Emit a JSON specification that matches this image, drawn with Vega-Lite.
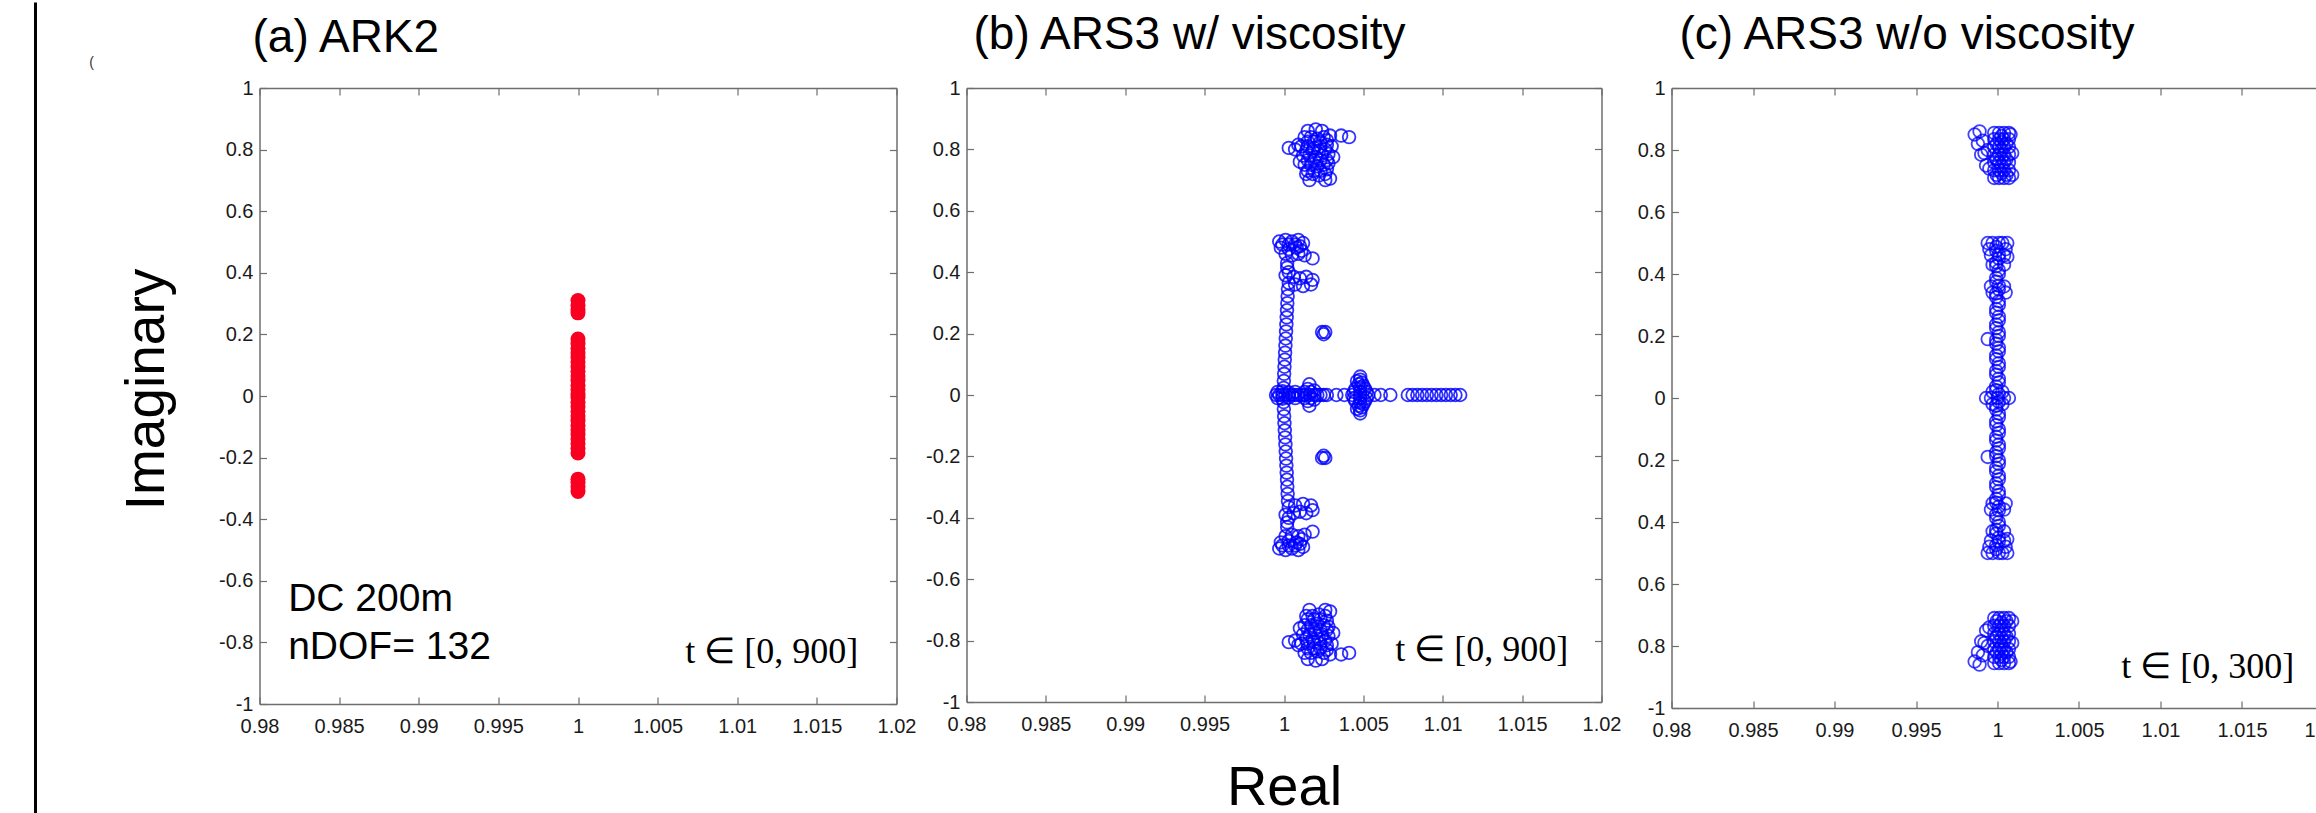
{
  "$schema": "https://vega.github.io/schema/vega-lite/v6.json",
  "padding": {"left": 33.5, "top": 0, "right": 0, "bottom": 0},
  "background": "white",
  "bounds": "flush",
  "spacing": 70,
  "config": {
    "view": {"stroke": null},
    "axis": {
      "grid": false,
      "domainColor": "#6e6e6e",
      "domainWidth": 1.5,
      "tickColor": "#6e6e6e",
      "tickWidth": 1.2,
      "tickSize": -7,
      "labelFont": "Liberation Sans Narrow, Liberation Sans",
      "labelFontSize": 20,
      "labelColor": "#1a1a1a",
      "labelFlush": false,
      "labelOverlap": false,
      "labelBound": false,
      "titleFont": "Liberation Sans",
      "titleFontWeight": "normal",
      "titleColor": "#000000"
    },
    "axisBottom": {"labelPadding": 19.5},
    "axisLeft": {"labelPadding": 13.5},
    "title": {
      "font": "Liberation Sans",
      "fontSize": 46,
      "fontWeight": "normal",
      "anchor": "start",
      "frame": "group",
      "baseline": "alphabetic",
      "color": "#000000"
    }
  },
  "datasets": {
    "ark2": [
      {"re": 1, "im": 0.31}, {"re": 1, "im": 0.295}, {"re": 1, "im": 0.28}, {"re": 1, "im": 0.27},
      {"re": 1, "im": 0.185}, {"re": 1, "im": 0.17}, {"re": 1, "im": 0.155}, {"re": 1, "im": 0.14},
      {"re": 1, "im": 0.125}, {"re": 1, "im": 0.11}, {"re": 1, "im": 0.095}, {"re": 1, "im": 0.08},
      {"re": 1, "im": 0.065}, {"re": 1, "im": 0.05}, {"re": 1, "im": 0.035}, {"re": 1, "im": 0.02},
      {"re": 1, "im": 0.005}, {"re": 1, "im": -0.005}, {"re": 1, "im": -0.02}, {"re": 1, "im": -0.035},
      {"re": 1, "im": -0.05}, {"re": 1, "im": -0.065}, {"re": 1, "im": -0.08}, {"re": 1, "im": -0.095},
      {"re": 1, "im": -0.11}, {"re": 1, "im": -0.125}, {"re": 1, "im": -0.14}, {"re": 1, "im": -0.155},
      {"re": 1, "im": -0.17}, {"re": 1, "im": -0.185}, {"re": 1, "im": -0.27}, {"re": 1, "im": -0.28},
      {"re": 1, "im": -0.295}, {"re": 1, "im": -0.31}
    ],
    "ars3v": [
      {"re": 1.0014, "im": 0.72}, {"re": 1.0018, "im": 0.72}, {"re": 1.0022, "im": 0.715}, {"re": 1.0026, "im": 0.72}, {"re": 1.0029, "im": 0.705},
      {"re": 1.0013, "im": 0.75}, {"re": 1.0017, "im": 0.75}, {"re": 1.0021, "im": 0.745}, {"re": 1.0025, "im": 0.75}, {"re": 1.0028, "im": 0.755},
      {"re": 1.0012, "im": 0.78}, {"re": 1.0016, "im": 0.78}, {"re": 1.002, "im": 0.775}, {"re": 1.0024, "im": 0.78}, {"re": 1.0028, "im": 0.785}, {"re": 1.0031, "im": 0.775},
      {"re": 1.0011, "im": 0.81}, {"re": 1.0015, "im": 0.81}, {"re": 1.0019, "im": 0.805}, {"re": 1.0023, "im": 0.81}, {"re": 1.0027, "im": 0.815}, {"re": 1.003, "im": 0.81},
      {"re": 1.0013, "im": 0.84}, {"re": 1.0017, "im": 0.84}, {"re": 1.0021, "im": 0.835}, {"re": 1.0025, "im": 0.84}, {"re": 1.0029, "im": 0.845},
      {"re": 1.0015, "im": 0.86}, {"re": 1.002, "im": 0.865}, {"re": 1.0024, "im": 0.86},
      {"re": 1.0015, "im": 0.73}, {"re": 1.0019, "im": 0.73}, {"re": 1.0023, "im": 0.73}, {"re": 1.0027, "im": 0.735},
      {"re": 1.0015, "im": 0.765}, {"re": 1.0019, "im": 0.765}, {"re": 1.0023, "im": 0.765}, {"re": 1.0027, "im": 0.765},
      {"re": 1.0014, "im": 0.795}, {"re": 1.0018, "im": 0.795}, {"re": 1.0022, "im": 0.795}, {"re": 1.0026, "im": 0.8},
      {"re": 1.0015, "im": 0.825}, {"re": 1.0019, "im": 0.825}, {"re": 1.0023, "im": 0.825}, {"re": 1.0027, "im": 0.83},
      {"re": 1.0003, "im": 0.805}, {"re": 1.0007, "im": 0.8}, {"re": 1.0009, "im": 0.815}, {"re": 1.0041, "im": 0.84}, {"re": 1.0036, "im": 0.845}, {"re": 1.001, "im": 0.76}, {"re": 1.0016, "im": 0.7}, {"re": 1.0026, "im": 0.7},
      {"re": 0.9997, "im": 0.5}, {"re": 1.0001, "im": 0.505}, {"re": 1.0005, "im": 0.5}, {"re": 1.0009, "im": 0.505}, {"re": 1.0012, "im": 0.495},
      {"re": 0.9999, "im": 0.49}, {"re": 1.0003, "im": 0.49}, {"re": 1.0007, "im": 0.49}, {"re": 1.001, "im": 0.485},
      {"re": 0.9998, "im": 0.48}, {"re": 1.0003, "im": 0.475}, {"re": 1.0008, "im": 0.48}, {"re": 1.0011, "im": 0.47},
      {"re": 1.0001, "im": 0.46}, {"re": 1.0005, "im": 0.455}, {"re": 1.0013, "im": 0.455}, {"re": 1.0018, "im": 0.445}, {"re": 1.0009, "im": 0.46},
      {"re": 1.0002, "im": 0.43}, {"re": 1.0002, "im": 0.415}, {"re": 1.0003, "im": 0.4},
      {"re": 1.0001, "im": 0.39}, {"re": 1.0006, "im": 0.385}, {"re": 1.001, "im": 0.38}, {"re": 1.0014, "im": 0.385}, {"re": 1.0018, "im": 0.375}, {"re": 1.0017, "im": 0.36}, {"re": 1.0012, "im": 0.355}, {"re": 1.0007, "im": 0.36}, {"re": 1.0003, "im": 0.365},
      {"re": 1.00025, "im": 0.345}, {"re": 1.00023, "im": 0.322}, {"re": 1.00021, "im": 0.299}, {"re": 1.00019, "im": 0.276}, {"re": 1.00017, "im": 0.253}, {"re": 1.00015, "im": 0.23}, {"re": 1.00013, "im": 0.207}, {"re": 1.00011, "im": 0.184}, {"re": 1.00009, "im": 0.161}, {"re": 1.00007, "im": 0.138}, {"re": 1.00005, "im": 0.115}, {"re": 1.00003, "im": 0.092}, {"re": 1.00001, "im": 0.069}, {"re": 0.99999, "im": 0.046}, {"re": 0.99998, "im": 0.023},
      {"re": 1.0024, "im": 0.205}, {"re": 1.0026, "im": 0.205}, {"re": 1.0025, "im": 0.198},
      {"re": 1.0015, "im": 0.02}, {"re": 1.0016, "im": 0.035}, {"re": 1.0017, "im": 0.01}, {"re": 1.0013, "im": 0.01}, {"re": 1.0019, "im": 0.015},
      {"re": 1.0048, "im": 0.05}, {"re": 1.0046, "im": 0.045}, {"re": 1.005, "im": 0.03}, {"re": 1.0047, "im": 0.035}, {"re": 1.0049, "im": 0.04}, {"re": 1.0045, "im": 0.02}, {"re": 1.0051, "im": 0.02}, {"re": 1.0048, "im": 0.01}, {"re": 1.0044, "im": 0.01}, {"re": 1.0052, "im": 0.01}, {"re": 1.0048, "im": 0.025}, {"re": 1.0048, "im": 0.06},
      {"re": 0.9996, "im": 0.01}, {"re": 0.9999, "im": 0.012}, {"re": 1.0003, "im": 0.008}, {"re": 1.0007, "im": 0.01},
      {"re": 1.0014, "im": -0.72}, {"re": 1.0018, "im": -0.72}, {"re": 1.0022, "im": -0.715}, {"re": 1.0026, "im": -0.72}, {"re": 1.0029, "im": -0.705},
      {"re": 1.0013, "im": -0.75}, {"re": 1.0017, "im": -0.75}, {"re": 1.0021, "im": -0.745}, {"re": 1.0025, "im": -0.75}, {"re": 1.0028, "im": -0.755},
      {"re": 1.0012, "im": -0.78}, {"re": 1.0016, "im": -0.78}, {"re": 1.002, "im": -0.775}, {"re": 1.0024, "im": -0.78}, {"re": 1.0028, "im": -0.785}, {"re": 1.0031, "im": -0.775},
      {"re": 1.0011, "im": -0.81}, {"re": 1.0015, "im": -0.81}, {"re": 1.0019, "im": -0.805}, {"re": 1.0023, "im": -0.81}, {"re": 1.0027, "im": -0.815}, {"re": 1.003, "im": -0.81},
      {"re": 1.0013, "im": -0.84}, {"re": 1.0017, "im": -0.84}, {"re": 1.0021, "im": -0.835}, {"re": 1.0025, "im": -0.84}, {"re": 1.0029, "im": -0.845},
      {"re": 1.0015, "im": -0.86}, {"re": 1.002, "im": -0.865}, {"re": 1.0024, "im": -0.86},
      {"re": 1.0015, "im": -0.73}, {"re": 1.0019, "im": -0.73}, {"re": 1.0023, "im": -0.73}, {"re": 1.0027, "im": -0.735},
      {"re": 1.0015, "im": -0.765}, {"re": 1.0019, "im": -0.765}, {"re": 1.0023, "im": -0.765}, {"re": 1.0027, "im": -0.765},
      {"re": 1.0014, "im": -0.795}, {"re": 1.0018, "im": -0.795}, {"re": 1.0022, "im": -0.795}, {"re": 1.0026, "im": -0.8},
      {"re": 1.0015, "im": -0.825}, {"re": 1.0019, "im": -0.825}, {"re": 1.0023, "im": -0.825}, {"re": 1.0027, "im": -0.83},
      {"re": 1.0003, "im": -0.805}, {"re": 1.0007, "im": -0.8}, {"re": 1.0009, "im": -0.815}, {"re": 1.0041, "im": -0.84}, {"re": 1.0036, "im": -0.845}, {"re": 1.001, "im": -0.76}, {"re": 1.0016, "im": -0.7}, {"re": 1.0026, "im": -0.7},
      {"re": 0.9997, "im": -0.5}, {"re": 1.0001, "im": -0.505}, {"re": 1.0005, "im": -0.5}, {"re": 1.0009, "im": -0.505}, {"re": 1.0012, "im": -0.495},
      {"re": 0.9999, "im": -0.49}, {"re": 1.0003, "im": -0.49}, {"re": 1.0007, "im": -0.49}, {"re": 1.001, "im": -0.485},
      {"re": 0.9998, "im": -0.48}, {"re": 1.0003, "im": -0.475}, {"re": 1.0008, "im": -0.48}, {"re": 1.0011, "im": -0.47},
      {"re": 1.0001, "im": -0.46}, {"re": 1.0005, "im": -0.455}, {"re": 1.0013, "im": -0.455}, {"re": 1.0018, "im": -0.445}, {"re": 1.0009, "im": -0.46},
      {"re": 1.0002, "im": -0.43}, {"re": 1.0002, "im": -0.415}, {"re": 1.0003, "im": -0.4},
      {"re": 1.0001, "im": -0.39}, {"re": 1.0006, "im": -0.385}, {"re": 1.001, "im": -0.38}, {"re": 1.0014, "im": -0.385}, {"re": 1.0018, "im": -0.375}, {"re": 1.0017, "im": -0.36}, {"re": 1.0012, "im": -0.355}, {"re": 1.0007, "im": -0.36}, {"re": 1.0003, "im": -0.365},
      {"re": 1.00025, "im": -0.345}, {"re": 1.00023, "im": -0.322}, {"re": 1.00021, "im": -0.299}, {"re": 1.00019, "im": -0.276}, {"re": 1.00017, "im": -0.253}, {"re": 1.00015, "im": -0.23}, {"re": 1.00013, "im": -0.207}, {"re": 1.00011, "im": -0.184}, {"re": 1.00009, "im": -0.161}, {"re": 1.00007, "im": -0.138}, {"re": 1.00005, "im": -0.115}, {"re": 1.00003, "im": -0.092}, {"re": 1.00001, "im": -0.069}, {"re": 0.99999, "im": -0.046}, {"re": 0.99998, "im": -0.023},
      {"re": 1.0024, "im": -0.205}, {"re": 1.0026, "im": -0.205}, {"re": 1.0025, "im": -0.198},
      {"re": 1.0015, "im": -0.02}, {"re": 1.0016, "im": -0.035}, {"re": 1.0017, "im": -0.01}, {"re": 1.0013, "im": -0.01}, {"re": 1.0019, "im": -0.015},
      {"re": 1.0048, "im": -0.05}, {"re": 1.0046, "im": -0.045}, {"re": 1.005, "im": -0.03}, {"re": 1.0047, "im": -0.035}, {"re": 1.0049, "im": -0.04}, {"re": 1.0045, "im": -0.02}, {"re": 1.0051, "im": -0.02}, {"re": 1.0048, "im": -0.01}, {"re": 1.0044, "im": -0.01}, {"re": 1.0052, "im": -0.01}, {"re": 1.0048, "im": -0.025}, {"re": 1.0048, "im": -0.06},
      {"re": 0.9996, "im": -0.01}, {"re": 0.9999, "im": -0.012}, {"re": 1.0003, "im": -0.008}, {"re": 1.0007, "im": -0.01},
      {"re": 0.9995, "im": 0}, {"re": 0.9997, "im": 0}, {"re": 0.9999, "im": 0}, {"re": 1.0001, "im": 0}, {"re": 1.0003, "im": 0}, {"re": 1.0005, "im": 0},
      {"re": 1.0007, "im": 0}, {"re": 1.0009, "im": 0}, {"re": 1.0011, "im": 0}, {"re": 1.0013, "im": 0}, {"re": 1.0016, "im": 0}, {"re": 1.0019, "im": 0},
      {"re": 1.0021, "im": 0}, {"re": 1.0023, "im": 0}, {"re": 1.0025, "im": 0}, {"re": 1.0027, "im": 0}, {"re": 1.0033, "im": 0}, {"re": 1.0038, "im": 0},
      {"re": 1.0043, "im": 0}, {"re": 1.0048, "im": 0}, {"re": 1.0053, "im": 0}, {"re": 1.0057, "im": 0}, {"re": 1.0061, "im": 0}, {"re": 1.0067, "im": 0},
      {"re": 1.0078, "im": 0}, {"re": 1.0081, "im": 0}, {"re": 1.0084, "im": 0}, {"re": 1.0087, "im": 0}, {"re": 1.009, "im": 0}, {"re": 1.0093, "im": 0},
      {"re": 1.0096, "im": 0}, {"re": 1.0099, "im": 0}, {"re": 1.0102, "im": 0}, {"re": 1.0105, "im": 0}, {"re": 1.0108, "im": 0}, {"re": 1.0111, "im": 0}
    ],
    "ars3nv": [
      {"re": 0.9998, "im": 0.71}, {"re": 1.0001, "im": 0.71}, {"re": 1.0004, "im": 0.71}, {"re": 1.0007, "im": 0.71},
      {"re": 0.9998, "im": 0.735}, {"re": 1.0001, "im": 0.735}, {"re": 1.0004, "im": 0.735}, {"re": 1.0007, "im": 0.735},
      {"re": 0.9998, "im": 0.76}, {"re": 1.0001, "im": 0.76}, {"re": 1.0004, "im": 0.76}, {"re": 1.0007, "im": 0.76},
      {"re": 0.9998, "im": 0.785}, {"re": 1.0001, "im": 0.785}, {"re": 1.0004, "im": 0.785}, {"re": 1.0007, "im": 0.785},
      {"re": 0.9998, "im": 0.81}, {"re": 1.0001, "im": 0.81}, {"re": 1.0004, "im": 0.81}, {"re": 1.0007, "im": 0.81},
      {"re": 0.9998, "im": 0.835}, {"re": 1.0001, "im": 0.835}, {"re": 1.0004, "im": 0.835}, {"re": 1.0007, "im": 0.835},
      {"re": 0.9998, "im": 0.855}, {"re": 1.0001, "im": 0.855}, {"re": 1.0004, "im": 0.855}, {"re": 1.0007, "im": 0.855},
      {"re": 0.99995, "im": 0.72}, {"re": 1.00025, "im": 0.725}, {"re": 1.00055, "im": 0.72}, {"re": 0.99995, "im": 0.77}, {"re": 1.00025, "im": 0.775}, {"re": 1.00055, "im": 0.77},
      {"re": 0.99995, "im": 0.82}, {"re": 1.00025, "im": 0.825}, {"re": 1.00055, "im": 0.82}, {"re": 1.00025, "im": 0.845}, {"re": 1.00025, "im": 0.8}, {"re": 1.00025, "im": 0.75},
      {"re": 1.0009, "im": 0.72}, {"re": 1.0009, "im": 0.79}, {"re": 1.0008, "im": 0.85}, {"re": 0.9986, "im": 0.85}, {"re": 0.9989, "im": 0.86}, {"re": 0.9988, "im": 0.82},
      {"re": 0.9991, "im": 0.83}, {"re": 0.999, "im": 0.785}, {"re": 0.9992, "im": 0.79}, {"re": 0.9993, "im": 0.75}, {"re": 0.9994, "im": 0.8}, {"re": 0.9995, "im": 0.74},
      {"re": 0.99992, "im": 0.025}, {"re": 1.00008, "im": 0.05}, {"re": 0.99992, "im": 0.075}, {"re": 1.00008, "im": 0.1}, {"re": 0.99992, "im": 0.125},
      {"re": 1.00008, "im": 0.15}, {"re": 0.99992, "im": 0.175}, {"re": 1.00008, "im": 0.2}, {"re": 0.99992, "im": 0.225}, {"re": 1.00008, "im": 0.25},
      {"re": 0.99992, "im": 0.275}, {"re": 1.00008, "im": 0.3}, {"re": 0.99992, "im": 0.325}, {"re": 1.00008, "im": 0.35}, {"re": 0.99992, "im": 0.375},
      {"re": 1.00008, "im": 0.4}, {"re": 0.99992, "im": 0.425}, {"re": 1.00008, "im": 0.45}, {"re": 0.99992, "im": 0.475}, {"re": 1.00008, "im": 0.5},
      {"re": 1.00008, "im": 0.0125}, {"re": 0.99992, "im": 0.0375}, {"re": 1.00008, "im": 0.0625}, {"re": 0.99992, "im": 0.0875}, {"re": 1.00008, "im": 0.1125},
      {"re": 0.99992, "im": 0.1375}, {"re": 1.00008, "im": 0.1625}, {"re": 0.99992, "im": 0.1875}, {"re": 1.00008, "im": 0.2125}, {"re": 0.99992, "im": 0.2375},
      {"re": 1.00008, "im": 0.2625}, {"re": 0.99992, "im": 0.2875}, {"re": 1.00008, "im": 0.3125}, {"re": 0.99992, "im": 0.3375}, {"re": 1.00008, "im": 0.3625},
      {"re": 0.99992, "im": 0.3875}, {"re": 1.00008, "im": 0.4125}, {"re": 0.99992, "im": 0.4375}, {"re": 1.00008, "im": 0.4625}, {"re": 0.99992, "im": 0.4875},
      {"re": 0.9994, "im": 0.5}, {"re": 0.9997, "im": 0.5}, {"re": 1.0003, "im": 0.5}, {"re": 1.0006, "im": 0.5}, {"re": 0.9995, "im": 0.48}, {"re": 1.0005, "im": 0.48},
      {"re": 0.9996, "im": 0.46}, {"re": 1.0004, "im": 0.46}, {"re": 1.0006, "im": 0.455}, {"re": 0.9997, "im": 0.43}, {"re": 1.0004, "im": 0.43}, {"re": 0.9996, "im": 0.36},
      {"re": 1.0004, "im": 0.36}, {"re": 0.9997, "im": 0.34}, {"re": 1.0005, "im": 0.34}, {"re": 0.9994, "im": 0.19}, {"re": 0.9997, "im": 0.02}, {"re": 1.0003, "im": 0.02},
      {"re": 0.9998, "im": -0.71}, {"re": 1.0001, "im": -0.71}, {"re": 1.0004, "im": -0.71}, {"re": 1.0007, "im": -0.71},
      {"re": 0.9998, "im": -0.735}, {"re": 1.0001, "im": -0.735}, {"re": 1.0004, "im": -0.735}, {"re": 1.0007, "im": -0.735},
      {"re": 0.9998, "im": -0.76}, {"re": 1.0001, "im": -0.76}, {"re": 1.0004, "im": -0.76}, {"re": 1.0007, "im": -0.76},
      {"re": 0.9998, "im": -0.785}, {"re": 1.0001, "im": -0.785}, {"re": 1.0004, "im": -0.785}, {"re": 1.0007, "im": -0.785},
      {"re": 0.9998, "im": -0.81}, {"re": 1.0001, "im": -0.81}, {"re": 1.0004, "im": -0.81}, {"re": 1.0007, "im": -0.81},
      {"re": 0.9998, "im": -0.835}, {"re": 1.0001, "im": -0.835}, {"re": 1.0004, "im": -0.835}, {"re": 1.0007, "im": -0.835},
      {"re": 0.9998, "im": -0.855}, {"re": 1.0001, "im": -0.855}, {"re": 1.0004, "im": -0.855}, {"re": 1.0007, "im": -0.855},
      {"re": 0.99995, "im": -0.72}, {"re": 1.00025, "im": -0.725}, {"re": 1.00055, "im": -0.72}, {"re": 0.99995, "im": -0.77}, {"re": 1.00025, "im": -0.775}, {"re": 1.00055, "im": -0.77},
      {"re": 0.99995, "im": -0.82}, {"re": 1.00025, "im": -0.825}, {"re": 1.00055, "im": -0.82}, {"re": 1.00025, "im": -0.845}, {"re": 1.00025, "im": -0.8}, {"re": 1.00025, "im": -0.75},
      {"re": 1.0009, "im": -0.72}, {"re": 1.0009, "im": -0.79}, {"re": 1.0008, "im": -0.85}, {"re": 0.9986, "im": -0.85}, {"re": 0.9989, "im": -0.86}, {"re": 0.9988, "im": -0.82},
      {"re": 0.9991, "im": -0.83}, {"re": 0.999, "im": -0.785}, {"re": 0.9992, "im": -0.79}, {"re": 0.9993, "im": -0.75}, {"re": 0.9994, "im": -0.8}, {"re": 0.9995, "im": -0.74},
      {"re": 0.99992, "im": -0.025}, {"re": 1.00008, "im": -0.05}, {"re": 0.99992, "im": -0.075}, {"re": 1.00008, "im": -0.1}, {"re": 0.99992, "im": -0.125},
      {"re": 1.00008, "im": -0.15}, {"re": 0.99992, "im": -0.175}, {"re": 1.00008, "im": -0.2}, {"re": 0.99992, "im": -0.225}, {"re": 1.00008, "im": -0.25},
      {"re": 0.99992, "im": -0.275}, {"re": 1.00008, "im": -0.3}, {"re": 0.99992, "im": -0.325}, {"re": 1.00008, "im": -0.35}, {"re": 0.99992, "im": -0.375},
      {"re": 1.00008, "im": -0.4}, {"re": 0.99992, "im": -0.425}, {"re": 1.00008, "im": -0.45}, {"re": 0.99992, "im": -0.475}, {"re": 1.00008, "im": -0.5},
      {"re": 1.00008, "im": -0.0125}, {"re": 0.99992, "im": -0.0375}, {"re": 1.00008, "im": -0.0625}, {"re": 0.99992, "im": -0.0875}, {"re": 1.00008, "im": -0.1125},
      {"re": 0.99992, "im": -0.1375}, {"re": 1.00008, "im": -0.1625}, {"re": 0.99992, "im": -0.1875}, {"re": 1.00008, "im": -0.2125}, {"re": 0.99992, "im": -0.2375},
      {"re": 1.00008, "im": -0.2625}, {"re": 0.99992, "im": -0.2875}, {"re": 1.00008, "im": -0.3125}, {"re": 0.99992, "im": -0.3375}, {"re": 1.00008, "im": -0.3625},
      {"re": 0.99992, "im": -0.3875}, {"re": 1.00008, "im": -0.4125}, {"re": 0.99992, "im": -0.4375}, {"re": 1.00008, "im": -0.4625}, {"re": 0.99992, "im": -0.4875},
      {"re": 0.9994, "im": -0.5}, {"re": 0.9997, "im": -0.5}, {"re": 1.0003, "im": -0.5}, {"re": 1.0006, "im": -0.5}, {"re": 0.9995, "im": -0.48}, {"re": 1.0005, "im": -0.48},
      {"re": 0.9996, "im": -0.46}, {"re": 1.0004, "im": -0.46}, {"re": 1.0006, "im": -0.455}, {"re": 0.9997, "im": -0.43}, {"re": 1.0004, "im": -0.43}, {"re": 0.9996, "im": -0.36},
      {"re": 1.0004, "im": -0.36}, {"re": 0.9997, "im": -0.34}, {"re": 1.0005, "im": -0.34}, {"re": 0.9994, "im": -0.19}, {"re": 0.9997, "im": -0.02}, {"re": 1.0003, "im": -0.02},
      {"re": 1.0, "im": 0}, {"re": 0.9993, "im": 0}, {"re": 0.9996, "im": 0}, {"re": 1.0004, "im": 0}, {"re": 1.0007, "im": 0}
    ]
  },
  "hconcat": [
    {
      "width": 637,
      "height": 616,
      "title": {"text": "(a) ARK2", "dx": -7, "offset": -61},
      "data": {"name": "ark2"},
      "layer": [
        {
          "mark": {"type": "circle", "size": 225, "color": "#fa0020", "opacity": 1},
          "encoding": {
            "x": {"field": "re", "type": "quantitative", "scale": {"domain": [0.98, 1.02], "nice": false, "zero": false},
                  "axis": {"orient": "bottom", "values": [0.98, 0.985, 0.99, 0.995, 1, 1.005, 1.01, 1.015, 1.02], "format": "~g", "title": null}},
            "y": {"field": "im", "type": "quantitative", "scale": {"domain": [-1, 1], "nice": false, "zero": false},
                  "axis": {"orient": "left", "values": [-1, -0.8, -0.6, -0.4, -0.2, 0, 0.2, 0.4, 0.6, 0.8, 1],
                           "labelExpr": "replace(format(datum.value, '~g'), '\u2212', '-')",
                           "title": "Imaginary", "titleFontSize": 55, "titleX": -96, "titleY": 301, "titleBaseline": "alphabetic"}}
          }
        },
        {
          "mark": {"type": "point", "opacity": 0},
          "encoding": {
            "x": {"field": "re", "type": "quantitative", "scale": {"domain": [0.98, 1.02], "nice": false, "zero": false},
                  "axis": {"orient": "top", "values": [0.98, 0.985, 0.99, 0.995, 1, 1.005, 1.01, 1.015, 1.02], "labels": false, "title": null}},
            "y": {"field": "im", "type": "quantitative", "scale": {"domain": [-1, 1], "nice": false, "zero": false},
                  "axis": {"orient": "right", "values": [-1, -0.8, -0.6, -0.4, -0.2, 0, 0.2, 0.4, 0.6, 0.8, 1], "labels": false, "title": null}}
          }
        },
        {
          "data": {"values": [{}]},
          "mark": {"type": "rule", "color": "#000000", "strokeWidth": 3, "clip": false},
          "encoding": {
            "x": {"datum": 0.965934, "type": "quantitative", "scale": {"domain": [0.98, 1.02], "nice": false, "zero": false}, "axis": null},
            "y": {"datum": 1.2776, "type": "quantitative", "scale": {"domain": [-1, 1], "nice": false, "zero": false}, "axis": null},
            "y2": {"datum": -1.4}
          }
        },
        {
          "data": {"values": [{}]},
          "mark": {"type": "text", "text": "(", "fontSize": 14, "font": "Liberation Sans", "align": "center", "baseline": "middle", "color": "#333333", "clip": false},
          "encoding": {
            "x": {"datum": 0.96945, "type": "quantitative", "scale": {"domain": [0.98, 1.02], "nice": false, "zero": false}, "axis": null},
            "y": {"datum": 1.081, "type": "quantitative", "scale": {"domain": [-1, 1], "nice": false, "zero": false}, "axis": null}
          }
        },
        {
          "data": {"values": [{}]},
          "mark": {"type": "text", "text": "DC 200m", "fontSize": 39, "font": "Liberation Sans", "align": "left", "baseline": "alphabetic", "color": "#000000"},
          "encoding": {
            "x": {"datum": 0.9818, "type": "quantitative", "scale": {"domain": [0.98, 1.02], "nice": false, "zero": false}, "axis": null},
            "y": {"datum": -0.698, "type": "quantitative", "scale": {"domain": [-1, 1], "nice": false, "zero": false}, "axis": null}
          }
        },
        {
          "data": {"values": [{}]},
          "mark": {"type": "text", "text": "nDOF= 132", "fontSize": 39, "font": "Liberation Sans", "align": "left", "baseline": "alphabetic", "color": "#000000"},
          "encoding": {
            "x": {"datum": 0.9818, "type": "quantitative", "scale": {"domain": [0.98, 1.02], "nice": false, "zero": false}, "axis": null},
            "y": {"datum": -0.854, "type": "quantitative", "scale": {"domain": [-1, 1], "nice": false, "zero": false}, "axis": null}
          }
        },
        {
          "data": {"values": [{}]},
          "mark": {"type": "text", "text": "t \u2208 [0, 900]", "fontSize": 36, "font": "Liberation Serif", "align": "right", "baseline": "alphabetic", "color": "#000000"},
          "encoding": {
            "x": {"datum": 1.0176, "type": "quantitative", "scale": {"domain": [0.98, 1.02], "nice": false, "zero": false}, "axis": null},
            "y": {"datum": -0.867, "type": "quantitative", "scale": {"domain": [-1, 1], "nice": false, "zero": false}, "axis": null}
          }
        }
      ],
      "resolve": {"axis": {"x": "independent", "y": "independent"}}
    },
    {
      "width": 635,
      "height": 614,
      "title": {"text": "(b) ARS3 w/ viscosity", "dx": 7, "offset": 19},
      "data": {"name": "ars3v"},
      "layer": [
        {
          "mark": {"type": "point", "shape": "circle", "filled": false, "size": 160, "strokeWidth": 1.8, "color": "#0000ff", "opacity": 0.8},
          "encoding": {
            "x": {"field": "re", "type": "quantitative", "scale": {"domain": [0.98, 1.02], "nice": false, "zero": false},
                  "axis": {"orient": "bottom", "values": [0.98, 0.985, 0.99, 0.995, 1, 1.005, 1.01, 1.015, 1.02], "format": "~g",
                           "title": "Real", "titleFontSize": 56, "titleY": 102, "titleBaseline": "alphabetic"}},
            "y": {"field": "im", "type": "quantitative", "scale": {"domain": [-1, 1], "nice": false, "zero": false},
                  "axis": {"orient": "left", "values": [-1, -0.8, -0.6, -0.4, -0.2, 0, 0.2, 0.4, 0.6, 0.8, 1],
                           "labelExpr": "replace(format(datum.value, '~g'), '\u2212', '-')", "title": null}}
          }
        },
        {
          "mark": {"type": "point", "opacity": 0},
          "encoding": {
            "x": {"field": "re", "type": "quantitative", "scale": {"domain": [0.98, 1.02], "nice": false, "zero": false},
                  "axis": {"orient": "top", "values": [0.98, 0.985, 0.99, 0.995, 1, 1.005, 1.01, 1.015, 1.02], "labels": false, "title": null}},
            "y": {"field": "im", "type": "quantitative", "scale": {"domain": [-1, 1], "nice": false, "zero": false},
                  "axis": {"orient": "right", "values": [-1, -0.8, -0.6, -0.4, -0.2, 0, 0.2, 0.4, 0.6, 0.8, 1], "labels": false, "title": null}}
          }
        },
        {
          "data": {"values": [{}]},
          "mark": {"type": "text", "text": "t \u2208 [0, 900]", "fontSize": 36, "font": "Liberation Serif", "align": "right", "baseline": "alphabetic", "color": "#000000"},
          "encoding": {
            "x": {"datum": 1.0179, "type": "quantitative", "scale": {"domain": [0.98, 1.02], "nice": false, "zero": false}, "axis": null},
            "y": {"datum": -0.866, "type": "quantitative", "scale": {"domain": [-1, 1], "nice": false, "zero": false}, "axis": null}
          }
        }
      ],
      "resolve": {"axis": {"x": "independent", "y": "independent"}}
    },
    {
      "width": 652,
      "height": 620,
      "title": {"text": "(c) ARS3 w/o viscosity", "dx": 8, "offset": 19},
      "data": {"name": "ars3nv"},
      "layer": [
        {
          "mark": {"type": "point", "shape": "circle", "filled": false, "size": 160, "strokeWidth": 1.8, "color": "#0000ff", "opacity": 0.75},
          "encoding": {
            "x": {"field": "re", "type": "quantitative", "scale": {"domain": [0.98, 1.02], "nice": false, "zero": false},
                  "axis": {"orient": "bottom", "values": [0.98, 0.985, 0.99, 0.995, 1, 1.005, 1.01, 1.015, 1.02], "format": "~g", "title": null}},
            "y": {"field": "im", "type": "quantitative", "scale": {"domain": [-1, 1], "nice": false, "zero": false},
                  "axis": {"orient": "left", "values": [-1, -0.8, -0.6, -0.4, -0.2, 0, 0.2, 0.4, 0.6, 0.8, 1],
                           "labelExpr": "datum.value <= -1 ? '-1' : format(abs(datum.value), '~g')", "title": null}}
          }
        },
        {
          "mark": {"type": "point", "opacity": 0},
          "encoding": {
            "x": {"field": "re", "type": "quantitative", "scale": {"domain": [0.98, 1.02], "nice": false, "zero": false},
                  "axis": {"orient": "top", "values": [0.98, 0.985, 0.99, 0.995, 1, 1.005, 1.01, 1.015, 1.02], "labels": false, "title": null}},
            "y": {"field": "im", "type": "quantitative", "scale": {"domain": [-1, 1], "nice": false, "zero": false},
                  "axis": {"orient": "right", "values": [-1, -0.8, -0.6, -0.4, -0.2, 0, 0.2, 0.4, 0.6, 0.8, 1], "labels": false, "title": null}}
          }
        },
        {
          "data": {"values": [{}]},
          "mark": {"type": "text", "text": "t \u2208 [0, 300]", "fontSize": 36, "font": "Liberation Serif", "align": "right", "baseline": "alphabetic", "color": "#000000"},
          "encoding": {
            "x": {"datum": 1.0182, "type": "quantitative", "scale": {"domain": [0.98, 1.02], "nice": false, "zero": false}, "axis": null},
            "y": {"datum": -0.903, "type": "quantitative", "scale": {"domain": [-1, 1], "nice": false, "zero": false}, "axis": null}
          }
        }
      ],
      "resolve": {"axis": {"x": "independent", "y": "independent"}}
    }
  ]
}
